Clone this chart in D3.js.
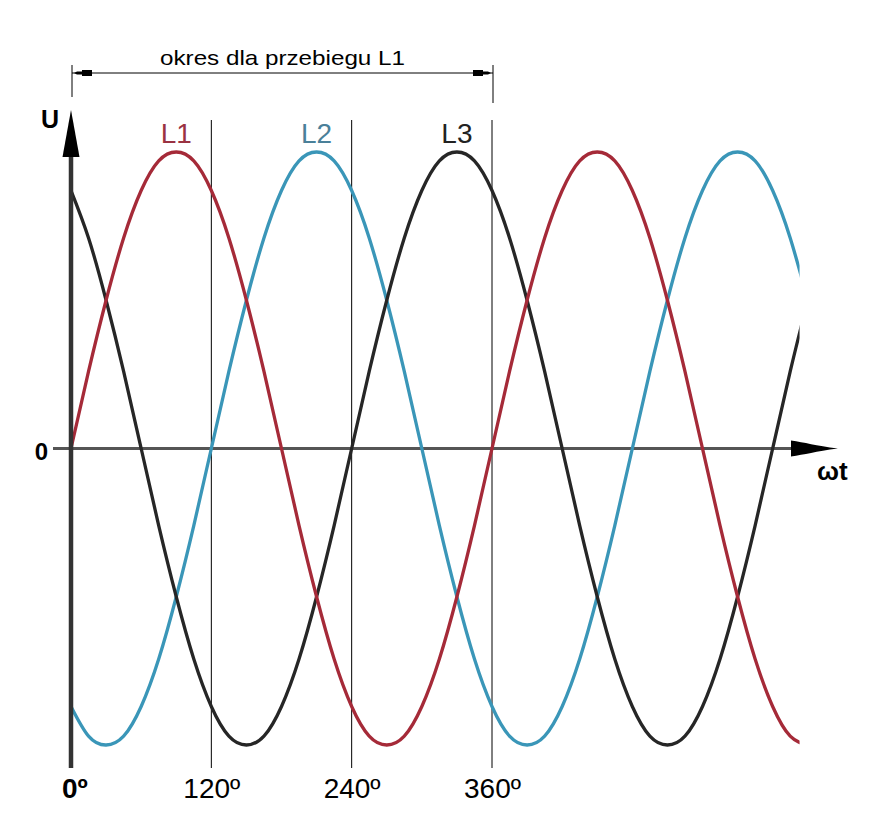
<!DOCTYPE html>
<html><head><meta charset="utf-8">
<script src="https://cdn.jsdelivr.net/npm/d3@7"></script>
<style>body{margin:0;background:#fff}svg{display:block}text{font-family:"Liberation Sans",Arial,sans-serif}</style>
</head><body>
<svg id="c" width="881" height="830"></svg>
<script>
// angles (degrees), step 15
const angles = d3.range(0, 631, 15);
const L1 = [0,.26,.5,.71,.87,.97,1,.97,.87,.71,.5,.26,0,-.26,-.5,-.71,-.87,-.97,-1,-.97,-.87,-.71,-.5,-.26,0,.26,.5,.71,.87,.97,1,.97,.87,.71,.5,.26,0,-.26,-.5,-.71,-.87,-.97,-1];
const L2 = [-.87,-.97,-1,-.97,-.87,-.71,-.5,-.26,0,.26,.5,.71,.87,.97,1,.97,.87,.71,.5,.26,0,-.26,-.5,-.71,-.87,-.97,-1,-.97,-.87,-.71,-.5,-.26,0,.26,.5,.71,.87,.97,1,.97,.87,.71,.5];
const L3 = [.87,.71,.5,.26,0,-.26,-.5,-.71,-.87,-.97,-1,-.97,-.87,-.71,-.5,-.26,0,.26,.5,.71,.87,.97,1,.97,.87,.71,.5,.26,0,-.26,-.5,-.71,-.87,-.97,-1,-.97,-.87,-.71,-.5,-.26,0,.26,.5];
const seriesNames = ["L1","L2","L3"];
const tickAngles = [0,120,240,360];
const tickLabels = ["0º","120º","240º","360º"];
const title = "okres dla przebiegu L1";
const xEnd = 623;

const svg = d3.select("#c");
const x = d3.scaleLinear().domain([0,360]).range([71,492]);
const y = d3.scaleLinear().domain([-1,1]).range([745,152]);
const colors = {L1:"#a52a38", L2:"#3a96b8", L3:"#262626"};
const labelColors = {L1:"#9a3242", L2:"#4a8099", L3:"#222"};

svg.append("clipPath").attr("id","clip").append("rect")
  .attr("x",0).attr("y",0).attr("width",x(xEnd)).attr("height",830);

// grid lines
svg.selectAll("line.grid").data(tickAngles.slice(1)).join("line")
  .attr("x1",d=>x(d)).attr("x2",d=>x(d)).attr("y1",120).attr("y2",768)
  .attr("stroke","#000").attr("stroke-width",1);

// dimension line
const dy = 73;
svg.append("line").attr("x1",x(0)+1).attr("x2",x(360)+1).attr("y1",dy).attr("y2",dy).attr("stroke","#000").attr("stroke-width",1);
svg.append("line").attr("x1",x(0)+1).attr("x2",x(0)+1).attr("y1",65).attr("y2",97).attr("stroke","#000");
svg.append("line").attr("x1",x(360)+1).attr("x2",x(360)+1).attr("y1",65).attr("y2",103).attr("stroke","#000");
function dimArrow(xt, dir){
  const p = [[xt,dy],[xt-dir*3,dy-1.5],[xt-dir*8,dy-1.5],[xt-dir*8,dy-3],[xt-dir*18,dy-3],[xt-dir*18,dy+3],[xt-dir*8,dy+3],[xt-dir*8,dy+1.5],[xt-dir*3,dy+1.5]];
  svg.append("path").attr("d","M"+p.map(d=>d.join(",")).join("L")+"Z").attr("fill","#000");
}
dimArrow(x(0)+3,-1);
dimArrow(x(360)-1,1);
svg.append("text").attr("x",160).attr("y",65)
  .attr("font-size",21).attr("fill","#000")
  .attr("textLength",245).attr("lengthAdjust","spacingAndGlyphs").text(title);

// x axis
svg.append("line").attr("x1",53).attr("x2",795).attr("y1",y(0)).attr("y2",y(0)).attr("stroke","#555").attr("stroke-width",3);
const ay = y(0);
svg.append("path").attr("d",`M791,${ay-8}C805,${ay-6} 815,${ay-3} 838,${ay}C815,${ay+3} 805,${ay+6} 791,${ay+8}Z`).attr("fill","#000");

// curves
const line = d3.line().x((d,i)=>x(angles[i])).y(d=>y(d)).curve(d3.curveNatural);
const g = svg.append("g").attr("clip-path","url(#clip)");
[["L2",L2],["L3",L3],["L1",L1]].forEach(([n,vals])=>{
  g.append("path").attr("d",line(vals)).attr("fill","none").attr("stroke",colors[n]).attr("stroke-width",3.3);
});

// y axis
svg.append("line").attr("x1",x(0)).attr("x2",x(0)).attr("y1",768).attr("y2",150).attr("stroke","#333").attr("stroke-width",4.5);
svg.append("path").attr("d",`M${x(0)},110L${x(0)+8.5},157L${x(0)-8.5},157Z`).attr("fill","#000");

// labels
svg.append("text").attr("x",41).attr("y",128).attr("font-size",25).attr("font-weight","bold").attr("fill","#000").text("U");
svg.append("text").attr("x",48).attr("y",460).attr("text-anchor","end").attr("font-size",24).attr("font-weight","bold").attr("fill","#000").text("0");
svg.append("text").attr("x",817).attr("y",480).attr("font-size",26).attr("font-weight","bold").attr("fill","#000").text("ωt");

const peakAngles = {L1:90, L2:210, L3:330};
seriesNames.forEach(n=>{
  svg.append("text").attr("x",x(peakAngles[n])).attr("y",143).attr("text-anchor","middle")
    .attr("font-size",28).attr("fill",labelColors[n]).text(n);
});

// tick labels
tickLabels.forEach((t,i)=>{
  svg.append("text").attr("x",x(tickAngles[i]) + (i===0?-9:-28)).attr("y",798)
    .attr("font-size",28).attr("font-weight",i===0?"bold":"normal").attr("fill","#000").text(t);
});
</script>
</body></html>
